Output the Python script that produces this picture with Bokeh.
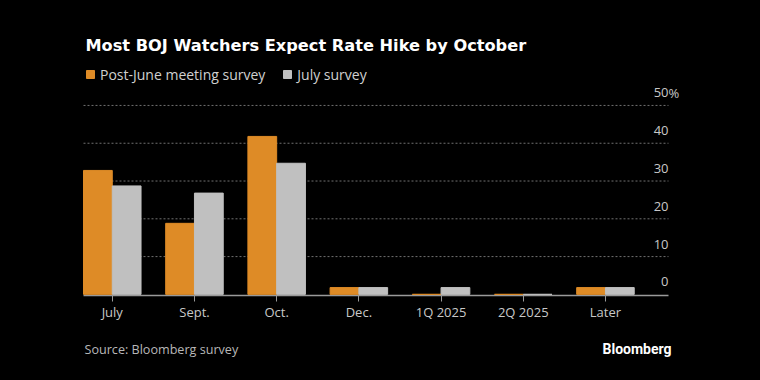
from bokeh.plotting import figure
from bokeh.layouts import column
from bokeh.models import ColumnDataSource, Label, FixedTicker, Legend, LegendItem, Range1d
from bokeh.embed import file_html
from bokeh.resources import INLINE

categories = ["July", "Sept.", "Oct.", "Dec.", "1Q 2025", "2Q 2025", "Later"]
post_june = [32.8, 18.8, 41.8, 1.8, 0.0, 0.0, 1.8]
july_survey = [28.7, 26.8, 34.7, 1.8, 1.8, 0.0, 1.8]
y_ticks = [0, 10, 20, 30, 40, 50]
y_tick_labels = ["0", "10", "20", "30", "40", "50"]
series_names = ["Post-June meeting survey", "July survey"]
title_text = "Most BOJ Watchers Expect Rate Hike by October"
source_text = "Source: Bloomberg survey"
brand_text = "Bloomberg"

ORANGE = "#de8b26"
GRAY = "#c0c0c0"
FONT = "Open Sans"
BW = 0.35

# layout in page pixels
W, H_MAIN, H_FOOT = 760, 330, 50
PLOT_L, PLOT_R, BASE_Y = 83, 668, 294   # plotting area (pixels)
XPX = (PLOT_R - PLOT_L) / (len(categories) - 1 + 2 * BW + 0.417)  # px per category
YPX = 3.78                                                       # px per percent
Y_START = -0.3

X0 = -BW
X1 = X0 + (PLOT_R - PLOT_L) / XPX
FX0 = X0 - PLOT_L / XPX
FX1 = X1 + (W - PLOT_R) / XPX
FY1 = BASE_Y / YPX
FRAME_BOTTOM = BASE_Y + (-Y_START) * YPX


def px_x(px):
    return FX0 + px / XPX


def px_y(py):
    return (BASE_Y - py) / YPX


xs = list(range(len(categories)))
src = ColumnDataSource(dict(
    x1=[x - BW / 2 for x in xs], x2=[x + BW / 2 for x in xs],
    a=post_june, b=july_survey))

p = figure(width=W, height=H_MAIN, output_backend="svg", toolbar_location=None,
           x_range=Range1d(FX0, FX1), y_range=Range1d(Y_START, FY1),
           y_axis_location=None, background_fill_color=None,
           border_fill_color=None, outline_line_color=None,
           min_border_left=0, min_border_right=0, min_border_top=0,
           min_border_bottom=int(round(H_MAIN - FRAME_BOTTOM)))
p.xgrid.visible = False
p.ygrid.visible = False

# dotted gridlines spanning the plotting area only
p.segment(x0=[X0] * 5, x1=[X1] * 5, y0=y_ticks[1:], y1=y_ticks[1:],
          line_color="#707070", line_dash="2 2", line_width=1)

ra = p.vbar(x="x1", top="a", width=BW, source=src, fill_color=ORANGE,
            line_color=ORANGE, line_width=1, level="annotation")
rb = p.vbar(x="x2", top="b", width=BW, source=src, fill_color=GRAY,
            line_color=GRAY, line_width=1, level="annotation")

ax = p.xaxis[0]
ax.bounds = (X0, X1)
ax.ticker = FixedTicker(ticks=xs)
ax.major_label_overrides = {i: c for i, c in enumerate(categories)}
ax.axis_line_color = "#9a9a9a"
ax.axis_line_width = 1.5
ax.major_tick_line_color = "#9a9a9a"
ax.major_tick_out = 6
ax.major_tick_in = 0
ax.minor_tick_line_color = None
ax.major_label_text_color = "#c8c8c8"
ax.major_label_text_font = FONT
ax.major_label_text_font_size = "13px"
ax.major_label_standoff = 1

legend = Legend(items=[LegendItem(label=series_names[0], renderers=[ra]),
                       LegendItem(label=series_names[1], renderers=[rb])],
                location=(85, FRAME_BOTTOM - 84), orientation="horizontal",
                background_fill_alpha=0, border_line_color=None,
                glyph_width=10, glyph_height=10, label_standoff=5, spacing=17,
                padding=0, margin=0, label_text_color="#d0d0d0",
                label_text_font=FONT, label_text_font_size="14px")
p.add_layout(legend)

for v, t in zip(y_ticks, y_tick_labels):
    p.add_layout(Label(x=X1, y=v, text=t, y_offset=12.5, text_align="right",
                       text_baseline="alphabetic", text_color="#c8c8c8",
                       text_font=FONT, text_font_size="13px"))
p.add_layout(Label(x=X1, y=y_ticks[-1], text="%", y_offset=12.5, text_align="left",
                   text_baseline="alphabetic", text_color="#c8c8c8", text_font=FONT,
                   text_font_size="13px"))

p.add_layout(Label(x=px_x(85), y=px_y(45), text=title_text,
                   text_color="white", text_font="DejaVu Sans", text_font_style="bold",
                   text_font_size="16.2px", text_baseline="middle"))

# footer
f = figure(width=W, height=H_FOOT, output_backend="svg", toolbar_location=None,
           x_range=Range1d(0, W), y_range=Range1d(H_FOOT, 0),
           x_axis_location=None, y_axis_location=None,
           background_fill_color=None, border_fill_color=None, outline_line_color=None,
           min_border=0)
f.xgrid.visible = False
f.ygrid.visible = False
f.add_layout(Label(x=84, y=349 - H_MAIN, text=source_text, text_color="#b8b8b8",
                   text_font=FONT, text_font_size="12.6px", text_baseline="alphabetic"))
f.add_layout(Label(x=671, y=348.5 - H_MAIN, text=brand_text, text_color="white",
                   text_font="Roboto", text_font_style="bold", text_font_size="14px",
                   text_baseline="alphabetic", text_align="right"))

layout = column(p, f, spacing=0)
html = file_html(layout, INLINE)
html = html.replace("</head>", "<style>html, body {background:#000;}</style></head>", 1)
open("out.html", "w").write(html)
